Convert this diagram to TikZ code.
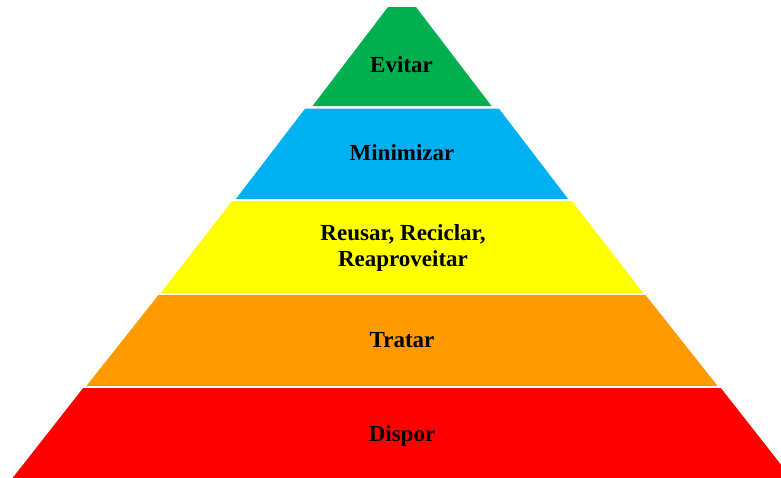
\documentclass[tikz,border=0pt]{standalone}
\usepackage{fontspec}
\setmainfont{Liberation Serif}
\definecolor{cgreen}{HTML}{00B050}
\definecolor{cblue}{HTML}{00B0F0}
\definecolor{cyellow}{HTML}{FFFF00}
\definecolor{corange}{HTML}{FF9900}
\definecolor{cred}{HTML}{FF0000}
\tikzset{
  lbl/.style={font=\fontsize{23}{26.7}\selectfont\bfseries, text=black, align=center, inner sep=0pt, anchor=base}
}
\begin{document}
\begin{tikzpicture}[x=1pt,y=-1pt]
\useasboundingbox (0,0) rectangle (781,477);
\begin{scope}
\clip (0,0) rectangle (781,477);
% bands: center x = 402
\fill[cgreen]  (388,7) -- (416,7) -- (491.5,106) -- (312.5,106) -- cycle;
\fill[cblue]   (305,108.7) -- (499,108.7) -- (568,198.8) -- (236,198.8) -- cycle;
\fill[cyellow] (232,201.2) -- (572,201.2) -- (643.5,293.3) -- (160.5,293.3) -- cycle;
\fill[corange] (158.5,295) -- (645.5,295) -- (717.5,385.8) -- (86.5,385.8) -- cycle;
\fill[cred]    (83,388.2) -- (721,388.2) -- (793,480) -- (11,480) -- cycle;
\end{scope}
\node[lbl] (evitar) at (401.5,72) {Evitar};
\node[lbl] (minimizar) at (402,160) {Minimizar};
\node[lbl] (reusar) at (403,266.7) {Reusar, Reciclar,\\Reaproveitar};
\node[lbl] (tratar) at (402,347.3) {Tratar};
\node[lbl] (dispor) at (402,441) {Dispor};
\end{tikzpicture}
\end{document}
